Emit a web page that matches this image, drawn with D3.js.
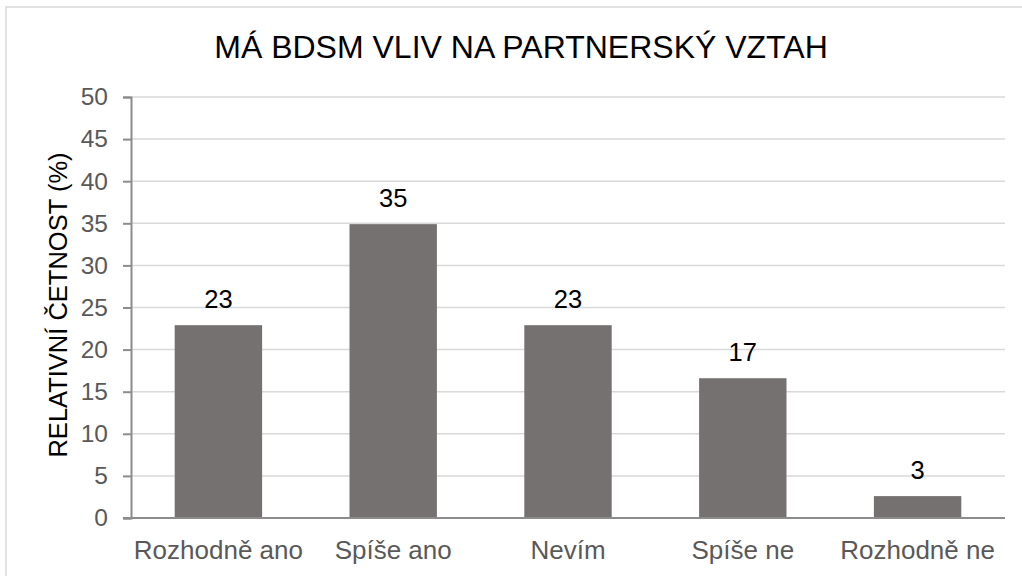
<!DOCTYPE html>
<html>
<head>
<meta charset="utf-8">
<style>
  body { margin: 0; background: #fff; }
  svg { display: block; font-family: "Liberation Sans", Arial, sans-serif; }
</style>
</head>
<body>
<svg class="chart" width="1022" height="576"></svg>

<script src="https://d3js.org/d3.v7.min.js"></script>
<script>
  const categories = ["Rozhodně ano", "Spíše ano", "Nevím", "Spíše ne", "Rozhodně ne"];
  const values = [22.9, 34.9, 22.9, 16.6, 2.6];
  const yTicks = [0, 5, 10, 15, 20, 25, 30, 35, 40, 45, 50];
  const title = "MÁ BDSM VLIV NA PARTNERSKÝ VZTAH";
  const yTitle = "RELATIVNÍ ČETNOST (%)";

  const svg = d3.select("svg.chart");

  const plotLeft = 131, plotRight = 1005, plotTop = 97, plotBottom = 518;

  // outer frame
  svg.append("rect")
    .attr("x", 6).attr("y", 7)
    .attr("width", 1030).attr("height", 580)
    .attr("fill", "none")
    .attr("stroke", "#d9d9d9")
    .attr("stroke-width", 1.5);

  const x = d3.scaleBand()
    .domain(categories)
    .range([plotLeft, plotRight])
    .paddingInner(0.5)
    .paddingOuter(0.25);

  const y = d3.scaleLinear()
    .domain([0, 50])
    .range([plotBottom, plotTop]);

  // gridlines
  svg.append("g")
    .selectAll("line")
    .data(yTicks.filter(d => d > 0))
    .join("line")
    .attr("x1", plotLeft).attr("x2", plotRight)
    .attr("y1", d => y(d)).attr("y2", d => y(d))
    .attr("stroke", "#d9d9d9")
    .attr("stroke-width", 1.5);

  // bars
  svg.append("g")
    .selectAll("rect")
    .data(values)
    .join("rect")
    .attr("x", (d, i) => x(categories[i]))
    .attr("width", x.bandwidth())
    .attr("y", d => y(d))
    .attr("height", d => y(0) - y(d))
    .attr("fill", "#767171");

  // value labels
  svg.append("g")
    .selectAll("text")
    .data(values)
    .join("text")
    .attr("x", (d, i) => x(categories[i]) + x.bandwidth() / 2)
    .attr("y", d => y(d) - 17)
    .attr("text-anchor", "middle")
    .attr("font-size", 25.5)
    .attr("fill", "#000")
    .text(d => d3.format(".0f")(d));

  // y axis
  const yAxis = svg.append("g")
    .attr("transform", `translate(${plotLeft},0)`)
    .call(d3.axisLeft(y).tickValues(yTicks).tickSize(8).tickPadding(15));
  yAxis.select(".domain").attr("stroke", "#8c8c8c").attr("stroke-width", 2);
  yAxis.selectAll(".tick line").attr("stroke", "#8c8c8c").attr("stroke-width", 2);
  yAxis.selectAll(".tick text")
    .attr("font-size", 24.5)
    .attr("font-family", "Liberation Sans, Arial, sans-serif")
    .attr("fill", "#595959");

  // x axis baseline
  svg.append("line")
    .attr("x1", plotLeft - 8).attr("x2", plotRight)
    .attr("y1", y(0)).attr("y2", y(0))
    .attr("stroke", "#8c8c8c")
    .attr("stroke-width", 2);

  // x labels
  svg.append("g")
    .selectAll("text")
    .data(categories)
    .join("text")
    .attr("x", d => x(d) + x.bandwidth() / 2)
    .attr("y", 559)
    .attr("text-anchor", "middle")
    .attr("font-size", 26)
    .attr("fill", "#595959")
    .text(d => d);

  // title
  svg.append("text")
    .attr("x", 521)
    .attr("y", 58)
    .attr("text-anchor", "middle")
    .attr("font-size", 32)
    .attr("fill", "#000")
    .text(title);

  // y axis title
  svg.append("text")
    .attr("transform", "translate(67,305) rotate(-90)")
    .attr("text-anchor", "middle")
    .attr("font-size", 25.5)
    .attr("fill", "#000")
    .text(yTitle);
</script>
</body>
</html>
